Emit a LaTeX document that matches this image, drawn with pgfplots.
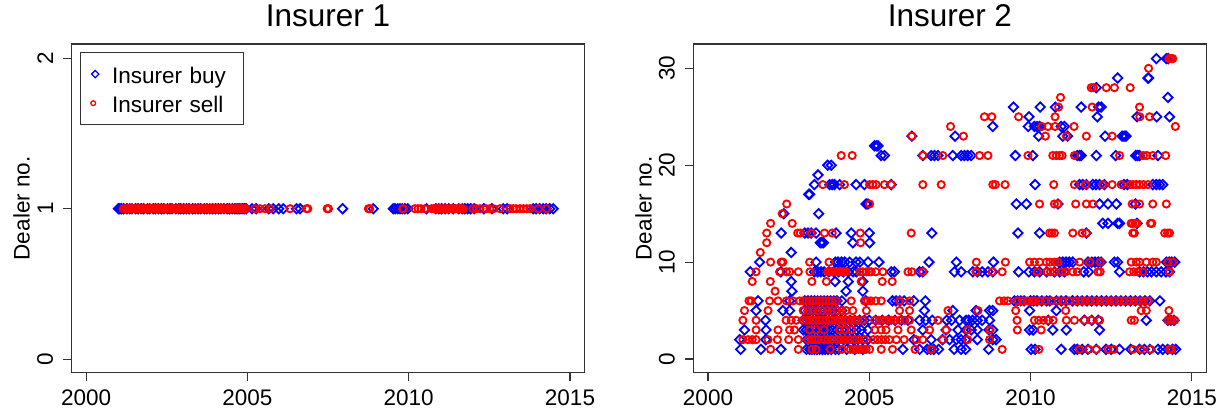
\documentclass[border=0pt]{standalone}
\usepackage{fontspec}
\setmainfont{Liberation Sans}
\usepackage{pgfplots}
\pgfplotsset{compat=1.18}

\definecolor{framegray}{gray}{0.2}
\newcommand\basefont{\fontsize{22.6}{27}\selectfont}
\newcommand\titlefont{\fontsize{31.6}{38}\selectfont}

\pgfplotsset{
  buy/.style={only marks, mark=square, blue, mark size=3.3bp,
    mark options={rotate=45, line width=1.8bp}},
  sell/.style={only marks, mark=o, red, mark size=3.6bp,
    mark options={line width=1.85bp}},
  dealerpanel/.style={
    scale only axis, width=512.8bp, height=328.7bp, anchor=south west,
    xmin=1999.55, xmax=2015.45,
    xtick={2000,2005,2010,2015}, xticklabels={2000,2005,2010,2015},
    tick align=outside, xtick pos=left, ytick pos=left,
    major tick length=8.5bp,
    axis line style={framegray, line width=1.1bp},
    tick style={framegray, line width=1.1bp},
    tick label style={font=\basefont, inner sep=0pt},
    /pgf/number format/assume math mode=true,
    xticklabel style={anchor=north},
    xticklabel shift=8.1bp,
    yticklabel style={rotate=90, anchor=south},
    yticklabel shift=10bp,
    title style={at={(0.5,1)}, anchor=base, yshift=11.3bp, inner sep=0pt, font=\titlefont},
    ylabel={Dealer no.},
    every axis y label/.style={at={(axis description cs:-0.0819,0.5)}, rotate=90,
      anchor=base, inner sep=0pt, font=\basefont},
  },
}

\begin{document}
\begin{tikzpicture}
\path[use as bounding box] (0,0) rectangle (1223bp,409bp);

% ---------------- Insurer 1 ----------------
\begin{axis}[dealerpanel, at={(71.7bp,36.3bp)},
  title={Insurer 1},
  ymin=-0.09, ymax=2.095,
  ytick={0,1,2}, yticklabels={0,1,2},
  legend style={at={(0.0162,0.9766)}, anchor=north west, draw=framegray,
    line width=0.9bp, fill=white, inner xsep=6bp, inner ysep=7.6bp,
    row sep=-0.3bp, column sep=10.4bp, font=\basefont,
    nodes={inner sep=0pt, text height=24bp, text depth=4.7bp,
      text width=125bp, align=left}},
  legend cell align=left,
]
\addplot[buy, legend image code/.code={
    \path (-8.3bp,0bp) (6bp,0bp);
    \draw[blue, mark=square, mark size=2.6bp, mark options={rotate=45, line width=1.3bp}]
      plot coordinates {(0bp,0bp)};}]
coordinates {
(2001.00,1) (2001.04,1) (2001.09,1) (2001.16,1) (2001.26,1) (2001.35,1) (2001.42,1)
(2001.53,1) (2001.61,1) (2001.70,1) (2001.78,1) (2001.90,1) (2001.97,1) (2002.08,1)
(2002.15,1) (2002.24,1) (2002.33,1) (2002.41,1) (2002.52,1) (2002.60,1) (2002.66,1)
(2002.78,1) (2002.87,1) (2002.93,1) (2003.02,1) (2003.11,1) (2003.19,1) (2003.30,1)
(2003.38,1) (2003.47,1) (2003.55,1) (2003.66,1) (2003.74,1) (2003.83,1) (2003.92,1)
(2004.01,1) (2004.10,1) (2004.18,1) (2004.27,1) (2004.37,1) (2004.44,1) (2004.53,1)
(2004.61,1) (2004.68,1) (2004.74,1) (2004.80,1) (2004.86,1) (2004.91,1) (2004.96,1)
(2005.14,1) (2005.27,1) (2005.66,1) (2005.80,1) (2005.97,1) (2006.11,1) (2006.52,1)
(2006.63,1) (2007.95,1) (2008.90,1) (2009.52,1) (2009.58,1) (2009.66,1) (2009.73,1)
(2009.80,1) (2009.88,1) (2009.97,1) (2010.55,1) (2010.84,1) (2010.93,1) (2011.02,1)
(2011.13,1) (2011.24,1) (2011.38,1) (2011.55,1) (2011.66,1) (2011.74,1) (2011.83,1)
(2011.92,1) (2012.03,1) (2012.33,1) (2012.58,1) (2012.93,1) (2013.05,1) (2013.86,1)
(2013.95,1) (2014.06,1) (2014.17,1) (2014.26,1) (2014.37,1) (2014.48,1)
};
\addlegendentry{Insurer buy}
\addplot[sell, legend image code/.code={
    \path (-8.3bp,0bp) (6bp,0bp);
    \draw[red, mark=o, mark size=2.4bp, mark options={line width=1.3bp}]
      plot coordinates {(-2bp,-0.7bp)};}]
coordinates {
(2001.15,1) (2001.22,1) (2001.27,1) (2001.34,1) (2001.40,1) (2001.44,1) (2001.51,1)
(2001.58,1) (2001.63,1) (2001.70,1) (2001.76,1) (2001.82,1) (2001.86,1) (2001.94,1)
(2002.00,1) (2002.06,1) (2002.12,1) (2002.17,1) (2002.25,1) (2002.30,1) (2002.36,1)
(2002.43,1) (2002.47,1) (2002.55,1) (2002.61,1) (2002.65,1) (2002.72,1) (2002.79,1)
(2002.84,1) (2002.90,1) (2002.96,1) (2003.03,1) (2003.07,1) (2003.14,1) (2003.20,1)
(2003.25,1) (2003.33,1) (2003.37,1) (2003.44,1) (2003.50,1) (2003.57,1) (2003.61,1)
(2003.68,1) (2003.73,1) (2003.80,1) (2003.86,1) (2003.91,1) (2003.97,1) (2004.04,1)
(2004.09,1) (2004.16,1) (2004.21,1) (2004.28,1) (2004.34,1) (2004.40,1) (2004.45,1)
(2004.50,1) (2004.57,1) (2004.63,1) (2004.69,1) (2004.75,1) (2004.80,1) (2004.86,1)
(2004.92,1) (2004.95,1) (2005.23,1) (2005.39,1) (2005.54,1) (2005.70,1) (2006.32,1)
(2006.83,1) (2006.87,1) (2007.47,1) (2007.51,1) (2008.75,1) (2008.79,1) (2009.81,1)
(2009.83,1) (2010.19,1) (2010.29,1) (2010.38,1) (2010.50,1) (2010.71,1) (2010.77,1)
(2010.83,1) (2010.90,1) (2010.95,1) (2011.01,1) (2011.08,1) (2011.14,1) (2011.20,1)
(2011.27,1) (2011.33,1) (2011.39,1) (2011.45,1) (2011.52,1) (2011.58,1) (2011.63,1)
(2011.69,1) (2011.99,1) (2012.10,1) (2012.21,1) (2012.40,1) (2012.52,1) (2012.63,1)
(2012.83,1) (2013.14,1) (2013.24,1) (2013.33,1) (2013.45,1) (2013.56,1) (2013.66,1)
(2013.76,1) (2014.02,1) (2014.27,1)
};
\addlegendentry{Insurer sell}
\end{axis}

% ---------------- Insurer 2 ----------------
\begin{axis}[dealerpanel, at={(693.5bp,36.3bp)},
  title={Insurer 2},
  ymin=-1.41, ymax=32.51,
  ytick={0,10,20,30}, yticklabels={0,10,20,30},
]
\addplot[buy] coordinates {
% dealer 1
(2001.01,1) (2001.64,1) (2002.26,1) (2003.05,1) (2003.15,1) (2003.22,1) (2003.30,1)
(2003.38,1) (2003.46,1) (2003.55,1) (2003.63,1) (2003.72,1) (2003.82,1) (2003.95,1)
(2004.05,1) (2004.30,1) (2004.55,1) (2004.80,1) (2006.04,1) (2006.56,1) (2006.80,1)
(2006.90,1) (2007.00,1) (2007.15,1) (2007.63,1) (2007.85,1) (2007.99,1) (2008.70,1)
(2010.02,1) (2010.14,1) (2010.95,1) (2011.36,1) (2011.45,1) (2011.60,1) (2011.78,1)
(2012.04,1) (2012.34,1) (2012.50,1) (2012.76,1) (2013.11,1) (2013.38,1) (2013.53,1)
(2013.70,1) (2013.95,1) (2014.10,1) (2014.25,1) (2014.40,1) (2014.50,1)
% dealer 2
(2000.98,2) (2001.79,2) (2003.05,2) (2003.15,2) (2003.25,2) (2003.35,2) (2003.45,2)
(2003.55,2) (2003.65,2) (2003.78,2) (2003.90,2) (2004.05,2) (2004.20,2) (2004.35,2)
(2004.50,2) (2004.65,2) (2004.80,2) (2004.95,2) (2006.38,2) (2006.92,2) (2007.27,2)
(2007.49,2) (2007.70,2) (2007.85,2) (2007.99,2) (2008.35,2) (2008.83,2) (2008.93,2)
% dealer 3
(2001.13,3) (2001.80,3) (2002.95,3) (2003.05,3) (2003.15,3) (2003.25,3) (2003.35,3)
(2003.45,3) (2003.55,3) (2003.65,3) (2003.75,3) (2003.85,3) (2004.00,3) (2004.15,3)
(2004.30,3) (2004.45,3) (2004.60,3) (2004.75,3) (2004.95,3) (2006.66,3) (2007.38,3)
(2007.75,3) (2008.00,3) (2008.16,3) (2008.35,3) (2008.71,3) (2008.83,3) (2009.97,3)
(2010.08,3) (2010.69,3) (2011.11,3) (2012.14,3)
% dealer 4
(2001.78,4) (2002.95,4) (2003.05,4) (2003.15,4) (2003.25,4) (2003.35,4) (2003.45,4)
(2003.55,4) (2003.65,4) (2003.75,4) (2003.85,4) (2003.95,4) (2004.10,4) (2004.25,4)
(2004.40,4) (2004.55,4) (2004.70,4) (2004.85,4) (2005.00,4) (2005.20,4) (2005.40,4)
(2005.60,4) (2005.80,4) (2006.00,4) (2006.20,4) (2006.56,4) (2006.75,4) (2006.95,4)
(2007.40,4) (2007.55,4) (2007.80,4) (2008.00,4) (2008.08,4) (2008.20,4) (2008.35,4)
(2008.50,4) (2008.73,4) (2010.55,4) (2011.67,4) (2011.90,4) (2012.10,4) (2013.59,4)
(2014.26,4) (2014.35,4) (2014.45,4)
% dealer 5
(2001.49,5) (2002.32,5) (2002.53,5) (2003.00,5) (2003.12,5) (2003.25,5) (2003.38,5)
(2003.50,5) (2003.62,5) (2003.75,5) (2003.88,5) (2004.00,5) (2004.15,5) (2006.71,5)
(2007.59,5) (2008.31,5) (2008.73,5) (2008.83,5) (2009.97,5) (2010.80,5)
% dealer 6
(2001.55,6) (2002.53,6) (2003.00,6) (2003.10,6) (2003.20,6) (2003.30,6) (2003.40,6)
(2003.50,6) (2003.60,6) (2003.70,6) (2003.80,6) (2003.90,6) (2004.00,6) (2004.15,6)
(2004.89,6) (2005.72,6) (2005.83,6) (2005.95,6) (2006.08,6) (2006.38,6) (2006.74,6)
(2009.50,6) (2009.60,6) (2009.70,6) (2009.80,6) (2010.00,6) (2010.10,6) (2010.20,6)
(2010.35,6) (2010.50,6) (2010.60,6) (2010.80,6) (2010.95,6) (2011.10,6) (2011.30,6)
(2011.45,6) (2011.60,6) (2011.75,6) (2011.90,6) (2012.05,6) (2012.20,6) (2012.35,6)
(2012.50,6) (2012.65,6) (2012.80,6) (2012.95,6) (2013.10,6) (2013.25,6) (2013.40,6)
(2013.55,6) (2013.70,6) (2014.01,6)
% dealers 7 and 8
(2002.60,7) (2004.28,7) (2004.80,7)
(2002.58,8) (2003.94,8) (2004.35,8) (2004.80,8)
% dealer 9
(2001.31,9) (2002.26,9) (2003.30,9) (2003.40,9) (2003.50,9) (2003.60,9) (2003.75,9)
(2003.90,9) (2004.05,9) (2004.20,9) (2004.35,9) (2004.50,9) (2004.60,9) (2005.68,9)
(2005.78,9) (2006.56,9) (2006.66,9) (2007.64,9) (2007.85,9) (2008.21,9) (2008.35,9)
(2008.50,9) (2008.68,9) (2008.83,9) (2009.63,9) (2009.95,9) (2010.12,9) (2010.28,9)
(2010.50,9) (2010.74,9) (2010.90,9) (2011.05,9) (2011.65,9) (2011.80,9) (2012.76,9)
(2013.38,9) (2013.50,9) (2013.62,9) (2013.75,9) (2013.90,9) (2014.05,9) (2014.20,9)
(2014.31,9)
% dealer 10
(2001.60,10) (2003.35,10) (2003.95,10) (2004.03,10) (2004.14,10) (2004.24,10)
(2004.39,10) (2004.59,10) (2004.71,10) (2004.96,10) (2005.30,10) (2006.85,10)
(2007.70,10) (2008.85,10) (2010.90,10) (2011.00,10) (2011.10,10) (2011.20,10)
(2011.31,10) (2011.78,10) (2011.90,10) (2012.00,10) (2012.10,10) (2012.19,10)
(2012.60,10) (2012.70,10) (2014.21,10) (2014.30,10) (2014.38,10) (2014.47,10)
% dealers 11 to 17
(2002.58,11)
(2003.48,12) (2003.53,12) (2003.58,12) (2004.49,12) (2005.01,12)
(2002.27,13) (2003.00,13) (2003.10,13) (2003.20,13) (2003.35,13) (2003.97,13)
(2004.44,13) (2005.00,13) (2006.94,13) (2009.61,13) (2010.28,13) (2011.73,13)
(2012.24,14) (2012.40,14) (2012.70,14) (2012.76,14) (2013.30,14)
(2002.35,15) (2003.43,15)
(2004.90,16) (2004.96,16) (2009.56,16) (2009.87,16) (2010.85,16) (2012.14,16)
(2012.40,16) (2012.66,16) (2013.25,16)
(2003.12,17) (2003.15,17)
% dealer 18
(2003.30,18) (2003.77,18) (2003.85,18) (2003.92,18) (2004.08,18) (2004.59,18)
(2004.85,18) (2005.68,18) (2010.14,18) (2011.52,18) (2011.62,18) (2011.73,18)
(2011.93,18) (2012.03,18) (2012.14,18) (2012.29,18) (2012.90,18) (2013.00,18)
(2013.79,18) (2013.90,18) (2014.00,18) (2014.10,18)
% dealers 19 to 31
(2003.41,19)
(2003.71,20) (2003.82,20)
(2005.37,21) (2005.47,21) (2006.66,21) (2006.92,21) (2007.02,21) (2007.13,21)
(2007.59,21) (2007.85,21) (2007.95,21) (2008.05,21) (2008.16,21) (2009.53,21)
(2010.07,21) (2011.45,21) (2011.52,21) (2011.57,21) (2012.04,21) (2012.64,21)
(2013.26,21) (2013.32,21) (2013.38,21) (2013.95,21)
(2005.16,22) (2005.22,22) (2005.27,22)
(2006.32,23) (2007.66,23) (2010.25,23) (2011.00,23) (2011.15,23) (2012.31,23)
(2012.84,23) (2012.90,23) (2012.96,23)
(2008.83,24) (2009.93,24) (2010.12,24) (2010.20,24) (2010.28,24) (2010.95,24)
(2011.05,24)
(2009.95,25) (2012.07,25) (2013.30,25) (2013.91,25) (2014.31,25)
(2009.47,26) (2010.30,26) (2010.77,26) (2011.57,26) (2012.11,26) (2012.19,26)
(2014.26,27)
(2012.04,28)
(2012.70,29) (2013.64,29) (2013.66,29)
(2013.90,31) (2014.21,31) (2014.27,31)
};
\addplot[sell] coordinates {
% dealer 1
(2001.94,1) (2002.80,1) (2003.22,1) (2003.35,1) (2003.79,1) (2004.15,1) (2004.41,1)
(2004.50,1) (2004.58,1) (2004.66,1) (2004.74,1) (2004.82,1) (2004.90,1) (2005.01,1)
(2005.37,1) (2005.72,1) (2006.42,1) (2006.92,1) (2009.12,1) (2010.26,1) (2011.52,1)
(2011.81,1) (2012.04,1) (2012.40,1) (2012.58,1) (2013.17,1) (2013.42,1) (2013.72,1)
(2014.31,1) (2014.37,1)
% dealer 2
(2001.08,2) (2001.24,2) (2001.37,2) (2001.49,2) (2001.86,2) (2002.15,2) (2002.50,2)
(2002.80,2) (2003.10,2) (2003.22,2) (2003.32,2) (2003.42,2) (2003.60,2) (2003.72,2)
(2003.85,2) (2004.00,2) (2004.12,2) (2004.25,2) (2004.40,2) (2004.55,2) (2004.68,2)
(2004.85,2) (2005.13,2) (2005.25,2) (2005.38,2) (2005.50,2) (2005.62,2) (2005.84,2)
(2006.08,2) (2006.45,2) (2006.66,2) (2007.28,2) (2008.05,2) (2008.73,2)
% dealer 3
(2001.49,3) (2002.17,3) (2002.53,3) (2002.68,3) (2003.15,3) (2003.35,3) (2003.60,3)
(2004.08,3) (2004.23,3) (2004.45,3) (2005.17,3) (2005.37,3) (2005.52,3) (2005.89,3)
(2006.30,3) (2006.87,3) (2007.38,3) (2008.05,3) (2008.73,3) (2009.59,3) (2010.33,3)
% dealer 4
(2001.08,4) (2001.49,4) (2002.42,4) (2002.58,4) (2002.73,4) (2002.95,4) (2003.05,4)
(2003.15,4) (2003.25,4) (2003.35,4) (2003.45,4) (2003.55,4) (2003.65,4) (2003.75,4)
(2003.85,4) (2003.95,4) (2004.05,4) (2004.15,4) (2004.25,4) (2004.35,4) (2004.45,4)
(2004.55,4) (2004.65,4) (2004.80,4) (2005.17,4) (2005.30,4) (2005.42,4) (2005.55,4)
(2005.68,4) (2005.80,4) (2005.95,4) (2006.10,4) (2006.25,4) (2007.13,4) (2009.58,4)
(2010.12,4) (2010.25,4) (2010.40,4) (2010.55,4) (2010.70,4) (2011.11,4) (2011.36,4)
(2011.67,4) (2011.88,4) (2012.14,4) (2013.12,4) (2013.22,4) (2014.26,4) (2014.36,4)
(2014.47,4)
% dealer 5
(2001.13,5) (2001.86,5) (2002.95,5) (2003.10,5) (2003.25,5) (2003.40,5) (2003.55,5)
(2003.70,5) (2003.85,5) (2004.00,5) (2004.15,5) (2004.28,5) (2004.49,5) (2004.91,5)
(2005.94,5) (2006.25,5) (2007.44,5) (2008.37,5) (2009.54,5) (2011.09,5) (2013.43,5)
(2013.59,5) (2014.29,5)
% dealer 6
(2001.27,6) (2001.34,6) (2001.91,6) (2002.17,6) (2002.43,6) (2002.63,6) (2002.84,6)
(2002.95,6) (2003.05,6) (2003.15,6) (2003.25,6) (2003.35,6) (2003.45,6) (2003.55,6)
(2003.65,6) (2003.75,6) (2003.85,6) (2003.97,6) (2004.44,6) (2004.85,6) (2004.95,6)
(2005.05,6) (2005.20,6) (2005.37,6) (2005.94,6) (2006.25,6) (2009.04,6) (2009.18,6)
(2009.30,6) (2009.60,6) (2009.75,6) (2009.90,6) (2010.05,6) (2010.15,6) (2010.30,6)
(2010.45,6) (2010.65,6) (2010.85,6) (2011.00,6) (2011.20,6) (2011.40,6) (2011.55,6)
(2011.70,6) (2011.85,6) (2012.00,6) (2012.15,6) (2012.30,6) (2012.45,6) (2012.60,6)
(2012.75,6) (2012.90,6) (2013.05,6) (2013.20,6) (2013.35,6) (2013.50,6) (2013.65,6)
% dealers 7 and 8
(2002.08,7)
(2001.37,8) (2001.93,8) (2003.22,8) (2003.67,8) (2004.75,8) (2005.40,8) (2005.71,8)
% dealer 9
(2001.49,9) (2002.22,9) (2002.43,9) (2002.53,9) (2002.80,9) (2003.16,9) (2003.72,9)
(2003.78,9) (2003.84,9) (2003.90,9) (2003.96,9) (2004.02,9) (2004.08,9) (2004.14,9)
(2004.20,9) (2004.28,9) (2004.71,9) (2004.80,9) (2004.91,9) (2005.00,9) (2005.06,9)
(2005.20,9) (2005.42,9) (2006.20,9) (2006.32,9) (2006.66,9) (2008.31,9) (2008.81,9)
(2009.12,9) (2010.20,9) (2010.51,9) (2010.62,9) (2010.74,9) (2010.98,9) (2011.09,9)
(2011.31,9) (2011.45,9) (2012.09,9) (2012.16,9) (2013.07,9) (2013.20,9) (2013.32,9)
(2013.48,9) (2014.31,9)
% dealer 10
(2001.94,10) (2002.27,10) (2002.32,10) (2003.15,10) (2003.75,10) (2008.32,10)
(2009.22,10) (2009.97,10) (2010.12,10) (2010.28,10) (2010.49,10) (2010.60,10)
(2010.74,10) (2010.85,10) (2011.52,10) (2011.83,10) (2012.16,10) (2013.12,10)
(2013.28,10) (2013.38,10) (2013.59,10) (2013.79,10) (2013.90,10) (2014.26,10)
(2014.41,10)
% dealers 11 to 16
(2001.62,11)
(2001.82,12) (2004.73,12)
(2001.82,13) (2002.78,13) (2002.86,13) (2003.20,13) (2003.61,13) (2003.85,13)
(2004.72,13) (2006.30,13) (2010.59,13) (2010.66,13) (2010.74,13) (2011.31,13)
(2011.60,13) (2011.73,13) (2013.17,13) (2013.22,13) (2014.16,13) (2014.25,13)
(2014.31,13)
(2001.94,14) (2002.61,14) (2013.12,14) (2013.17,14) (2013.25,14) (2013.30,14)
(2013.72,14) (2013.76,14)
(2002.30,15)
(2002.44,16) (2005.01,16) (2010.28,16) (2010.74,16) (2010.85,16) (2011.40,16)
(2011.73,16) (2011.93,16) (2013.15,16) (2013.38,16) (2013.79,16) (2014.21,16)
% dealer 18
(2003.56,18) (2004.23,18) (2005.01,18) (2005.11,18) (2005.21,18) (2005.47,18)
(2005.68,18) (2006.66,18) (2007.23,18) (2008.83,18) (2008.91,18) (2009.21,18)
(2010.72,18) (2011.36,18) (2011.71,18) (2012.24,18) (2012.53,18) (2012.81,18)
(2013.09,18) (2013.18,18) (2013.28,18) (2013.38,18) (2013.50,18) (2013.64,18)
% dealers 21 to 31
(2004.13,21) (2004.47,21) (2006.66,21) (2007.28,21) (2008.42,21) (2008.68,21)
(2009.92,21) (2010.69,21) (2010.80,21) (2010.90,21) (2010.98,21) (2011.36,21)
(2012.76,21) (2013.50,21) (2013.60,21) (2013.79,21) (2014.19,21)
(2006.32,23) (2007.92,23) (2010.46,23) (2011.11,23) (2011.73,23) (2012.53,23)
(2007.52,24) (2010.35,24) (2010.54,24) (2010.76,24) (2011.35,24) (2014.49,24)
(2008.57,25) (2008.80,25) (2009.63,25) (2010.76,25) (2013.39,25) (2013.69,25)
(2010.87,26) (2011.91,26) (2013.38,26)
(2010.93,27)
(2011.88,28) (2011.95,28) (2012.35,28) (2012.60,28) (2013.09,28)
(2013.66,30)
(2014.29,31) (2014.33,31) (2014.37,31) (2014.41,31)
};
\end{axis}
\end{tikzpicture}
\end{document}
